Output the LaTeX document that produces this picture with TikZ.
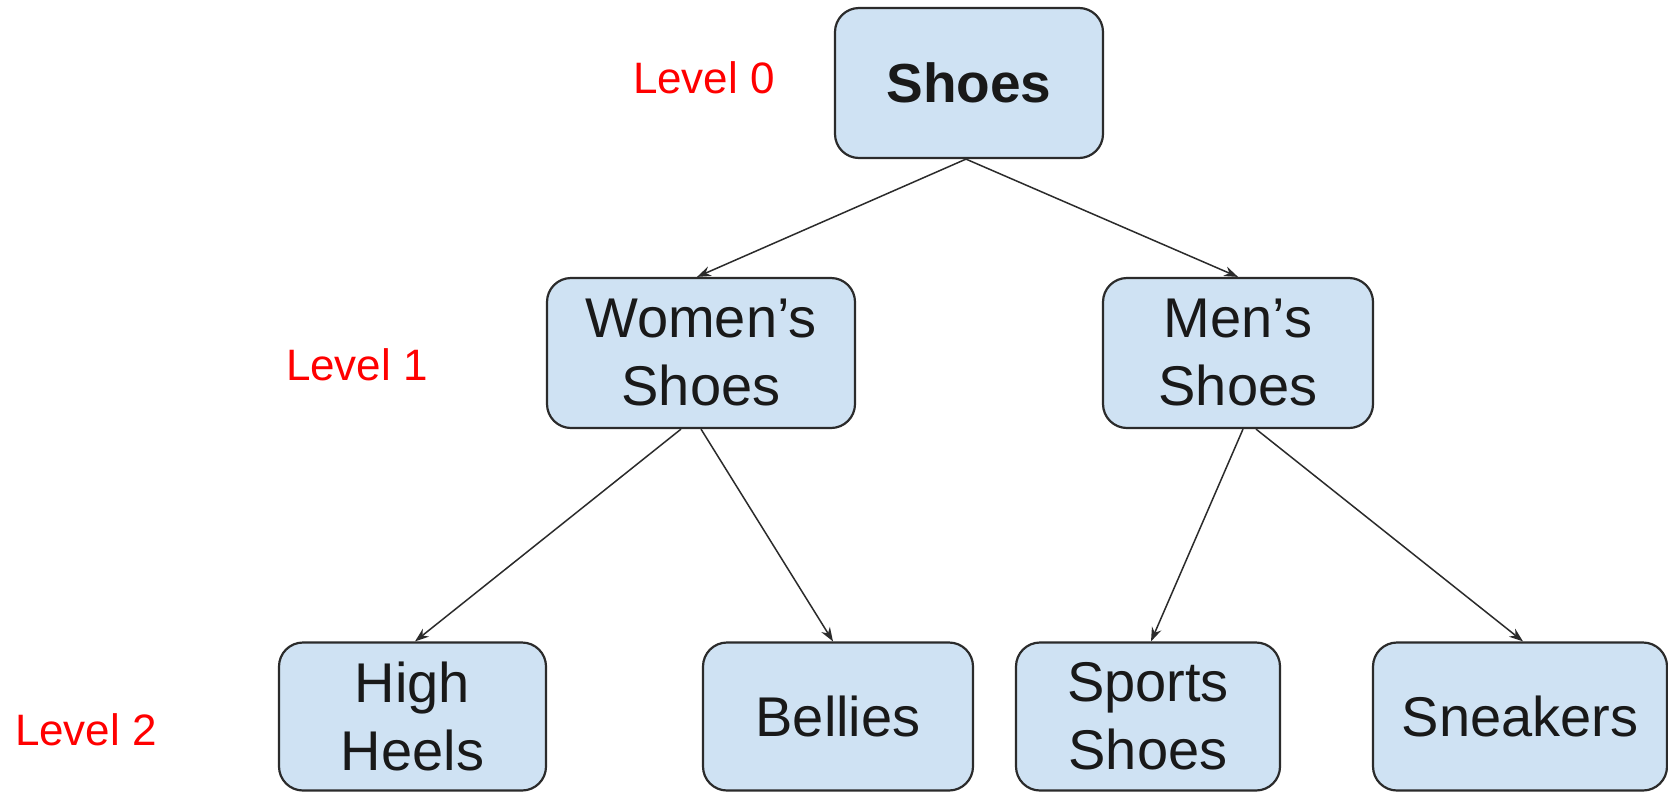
\documentclass[tikz,border=0pt]{standalone}
\usepackage{fontspec}
\setmainfont{Liberation Sans}
\usetikzlibrary{arrows.meta}
\definecolor{boxfill}{HTML}{CFE2F3}
\definecolor{boxline}{HTML}{2B2B2B}
\definecolor{lvlred}{HTML}{FF0000}
\begin{document}
\begin{tikzpicture}[x=0.5pt,y=-0.5pt,
  box/.style={draw=boxline, line width=1.1pt, fill=boxfill, rounded corners=12pt,
    inner sep=0pt, align=center, font=\fontsize{28}{34}\selectfont, text=black!90,
    minimum height=74pt},
  lvl/.style={text=lvlred, font=\fontsize{22}{26}\selectfont, anchor=base, inner sep=0pt},
  arr/.style={-{Stealth[length=7pt,width=5pt]}, line width=0.75pt, draw=boxline}]
\fill[white] (0,0) rectangle (1668,793);
\useasboundingbox (0,0) rectangle (1668,793);
% level 0
\node[box, minimum width=134pt, minimum height=75pt, font=\fontsize{27.5}{32}\selectfont\bfseries] (shoes) at (969,83) {Shoes};
% level 1
\node[box, minimum width=154pt, minimum height=75pt] (women) at (701,353) {Women’s\\Shoes};
\node[box, minimum width=135pt, minimum height=75pt] (men) at (1238,353) {Men’s\\Shoes};
% level 2
\node[box, minimum width=133.5pt] (heels) at (412.5,716.5) {High\\Heels};
\node[box, minimum width=135pt] (bellies) at (838,716.5) {Bellies};
\node[box, minimum width=132pt] (sports) at (1148,716.5) {Sports\\Shoes};
\node[box, minimum width=147pt] (sneakers) at (1520,716.5) {Sneakers};
% level labels
\node[lvl] (l0) at (704,93) {Level 0};
\node[lvl] (l1) at (357,380) {Level 1};
\node[lvl] (l2) at (86,745) {Level 2};
% connectors
\draw[arr] ([xshift=-1.5pt]shoes.south) -- ([xshift=-2pt]women.north);
\draw[arr] ([xshift=-1.5pt]shoes.south) -- (men.north);
\draw[arr] ([xshift=-10pt]women.south) -- ([xshift=1.25pt]heels.north);
\draw[arr] (women.south) -- ([xshift=-2.5pt]bellies.north);
\draw[arr] ([xshift=2.5pt]men.south) -- ([xshift=1.5pt]sports.north);
\draw[arr] ([xshift=9pt]men.south) -- ([xshift=1.5pt]sneakers.north);
\end{tikzpicture}
\end{document}
